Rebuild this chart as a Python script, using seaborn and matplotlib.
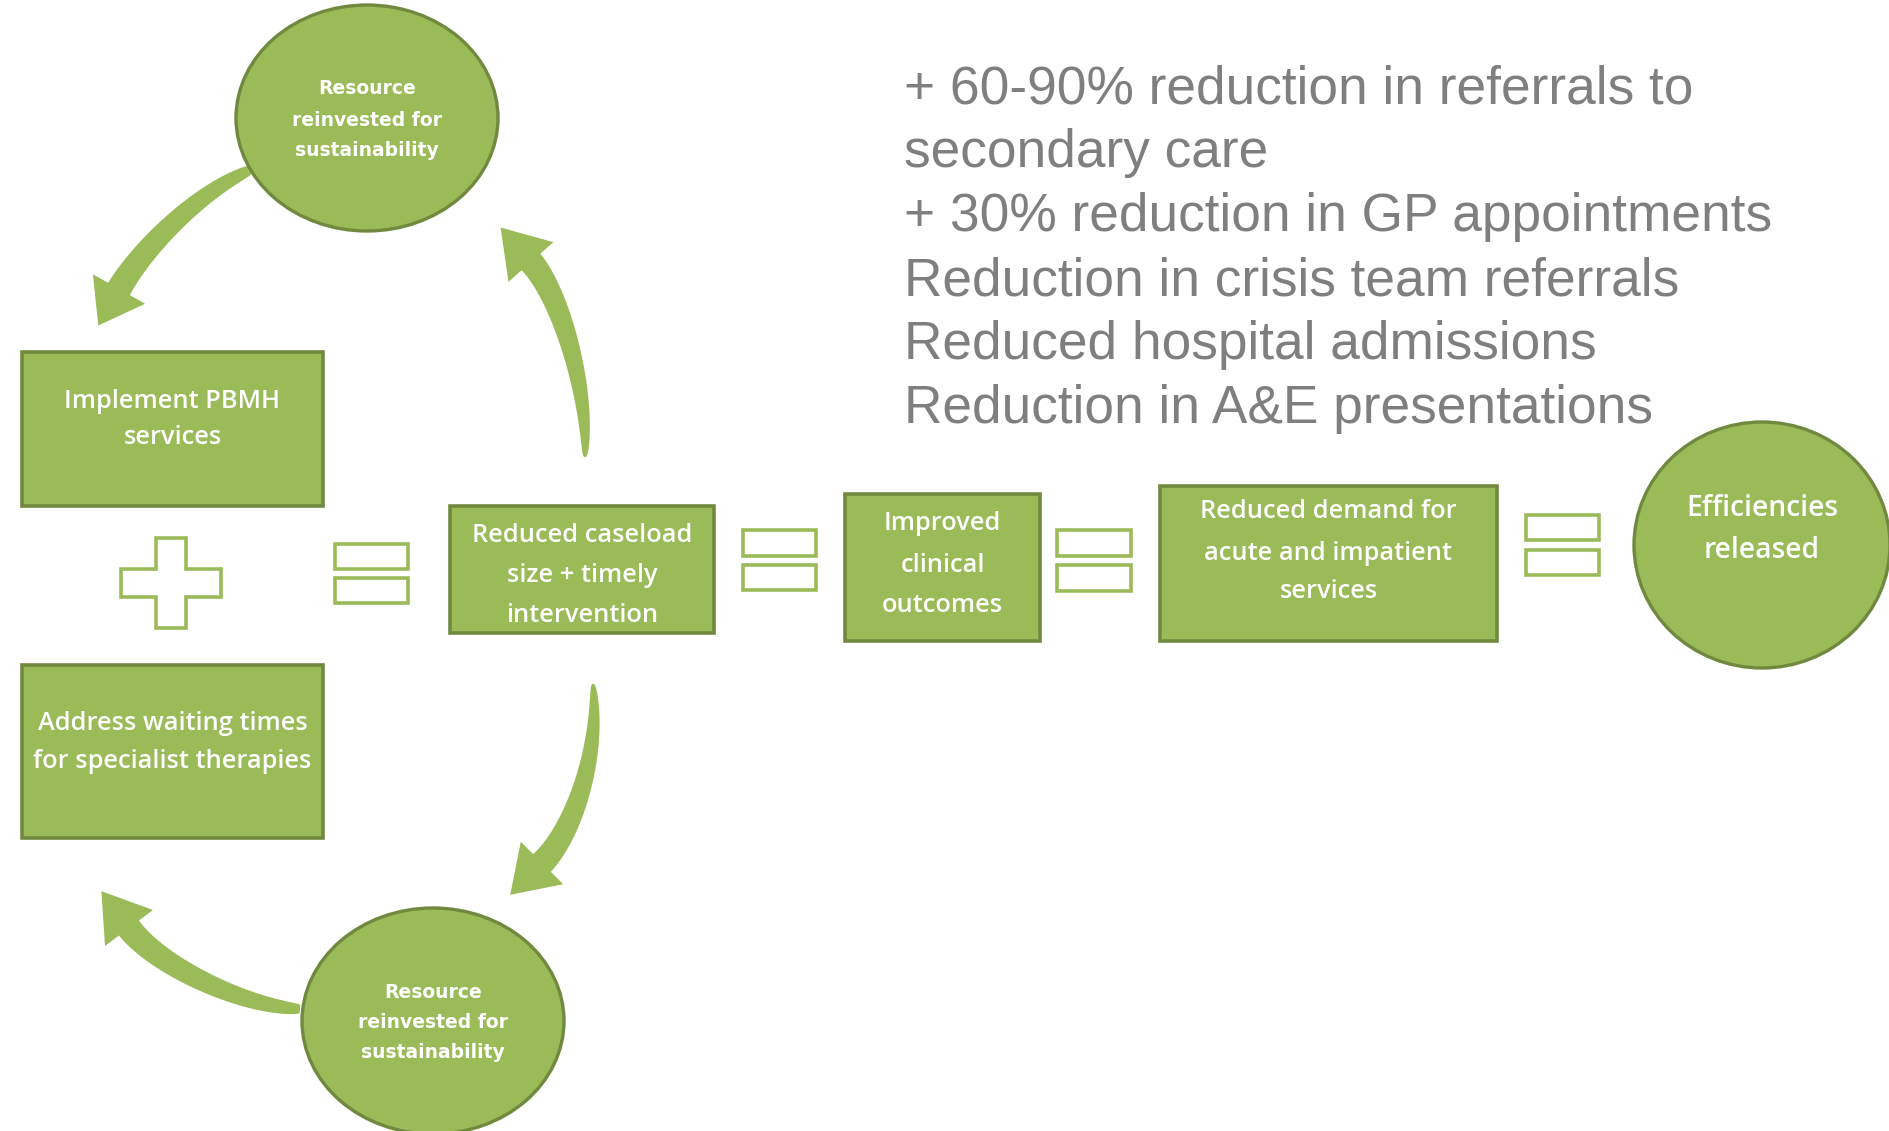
import numpy as np
import matplotlib
matplotlib.use("Agg")
import matplotlib.pyplot as plt
from matplotlib.patches import Rectangle, Ellipse, Polygon
import seaborn as sns

sns.set_theme(style="white")
plt.rcParams['font.family'] = ['Open Sans', 'DejaVu Sans']

# ---- content ----
box_labels = [
    "Implement PBMH\nservices",
    "Address waiting times\nfor specialist therapies",
    "Reduced caseload\nsize + timely\nintervention",
    "Improved\nclinical\noutcomes",
    "Reduced demand for\nacute and impatient\nservices",
]
circle_labels = [
    "Resource\nreinvested for\nsustainability",
    "Resource\nreinvested for\nsustainability",
    "Efficiencies\nreleased",
]
outcome_lines = [
    "+ 60-90% reduction in referrals to",
    "secondary care",
    "+ 30% reduction in GP appointments",
    "Reduction in crisis team referrals",
    "Reduced hospital admissions",
    "Reduction in A&E presentations",
]

FILL = "#9BBB59"
EDGE = "#71893F"
GREY = "#7F7F7F"

W, H = 1890, 1131
fig = plt.figure(figsize=(W / 100, H / 100), dpi=100)
ax = fig.add_axes([0, 0, 1, 1])
ax.set_xlim(0, W)
ax.set_ylim(H, 0)
ax.axis("off")


def curved_arrow(pts, w_tail, w_neck, head_w, head_len):
    P = np.array(pts, float)
    t = np.linspace(0, 1, 100)
    B = (((1 - t) ** 3)[:, None] * P[0] + (3 * (1 - t) ** 2 * t)[:, None] * P[1]
         + (3 * (1 - t) * t ** 2)[:, None] * P[2] + (t ** 3)[:, None] * P[3])
    dB = ((3 * (1 - t) ** 2)[:, None] * (P[1] - P[0]) + (6 * (1 - t) * t)[:, None] * (P[2] - P[1])
          + (3 * t ** 2)[:, None] * (P[3] - P[2]))
    T = dB / np.linalg.norm(dB, axis=1)[:, None]
    N = np.stack([-T[:, 1], T[:, 0]], axis=1)
    w = w_tail + (w_neck - w_tail) * np.sqrt(t)
    left = B + N * (w / 2)[:, None]
    right = B - N * (w / 2)[:, None]
    end, Te, Ne = B[-1], T[-1], N[-1]
    tip = end + Te * head_len
    hl = end + Ne * head_w / 2
    hr = end - Ne * head_w / 2
    poly = np.vstack([left, hl, tip, hr, right[::-1]])
    ax.add_patch(Polygon(poly, closed=True, fc=FILL, ec="none", zorder=1))


# arrows (drawn beneath the shapes)
curved_arrow([(250, 170), (195, 194), (140, 252), (119, 289)], 8, 25, 60, 42)
curved_arrow([(585, 457), (588, 390), (561, 296), (531, 262)], 2, 25, 60, 46)
curved_arrow([(593, 684), (600, 752), (574, 831), (542, 863)], 2, 25, 60, 45)
curved_arrow([(300, 1009), (240, 1006), (156, 964), (129, 928)], 8, 25, 60, 46)

# rectangles
boxes = [(22, 352, 323, 506), (22, 665, 323, 838), (450, 506, 714, 633),
         (845, 494, 1040, 641), (1160, 486, 1497, 641)]
box_line_y = [[402, 438], [724, 762], [536, 576, 615], [524, 565, 605], [511, 553, 592]]
for (x0, y0, x1, y1), lab, ys in zip(boxes, box_labels, box_line_y):
    ax.add_patch(Rectangle((x0, y0), x1 - x0, y1 - y0, fc=FILL, ec=EDGE, lw=2.6, zorder=2))
    for line, yy in zip(lab.split("\n"), ys):
        ax.text((x0 + x1) / 2, yy, line, ha="center", va="center", color="white",
                fontsize=18.3, fontweight="semibold", zorder=3)

# ellipses
ellipses = [(367, 118, 131, 113), (433, 1021, 131, 113), (1762, 545, 128, 123)]
circ_line_y = [[89, 120, 150], [992, 1022, 1052], [508, 551]]
circ_fs = [13.5, 13.5, 20.3]
circ_font = [["DejaVu Sans"], ["DejaVu Sans"], ["Open Sans", "DejaVu Sans"]]
circ_wt = ["bold", "bold", "semibold"]
for (cx, cy, rx, ry), lab, ys, fs, fam, wt in zip(ellipses, circle_labels, circ_line_y,
                                                  circ_fs, circ_font, circ_wt):
    ax.add_patch(Ellipse((cx, cy), 2 * rx, 2 * ry, fc=FILL, ec=EDGE, lw=2.4, zorder=2))
    for line, yy in zip(lab.split("\n"), ys):
        ax.text(cx, yy, line, ha="center", va="center", color="white",
                fontsize=fs, fontweight=wt, family=fam, zorder=3)

# equals signs
equals = [(335, 408, 544, 569, 578, 603), (743, 816, 530, 556, 565, 590),
          (1057, 1131, 530, 556, 565, 591), (1526, 1599, 515, 540, 550, 575)]
for x0, x1, a0, a1, b0, b1 in equals:
    for y0, y1 in [(a0, a1), (b0, b1)]:
        ax.add_patch(Rectangle((x0, y0), x1 - x0, y1 - y0, fc="white", ec=FILL, lw=2.6, zorder=2))

# plus sign
cx, cy, hw, hh, tv, th = 171, 583, 50, 45, 15, 14
plus = [(cx - tv, cy - hh), (cx + tv, cy - hh), (cx + tv, cy - th), (cx + hw, cy - th),
        (cx + hw, cy + th), (cx + tv, cy + th), (cx + tv, cy + hh), (cx - tv, cy + hh),
        (cx - tv, cy + th), (cx - hw, cy + th), (cx - hw, cy - th), (cx - tv, cy - th)]
ax.add_patch(Polygon(plus, closed=True, fc="white", ec=FILL, lw=2.6, zorder=2))

# outcome text
baselines = [103, 167, 231, 295, 359, 423]
for line, yb in zip(outcome_lines, baselines):
    ax.text(904, yb, line, ha="left", va="baseline", color=GREY, fontsize=38.3,
            family=["Liberation Sans", "DejaVu Sans"], zorder=3)

fig.savefig("out.png", dpi=100, facecolor="white")
